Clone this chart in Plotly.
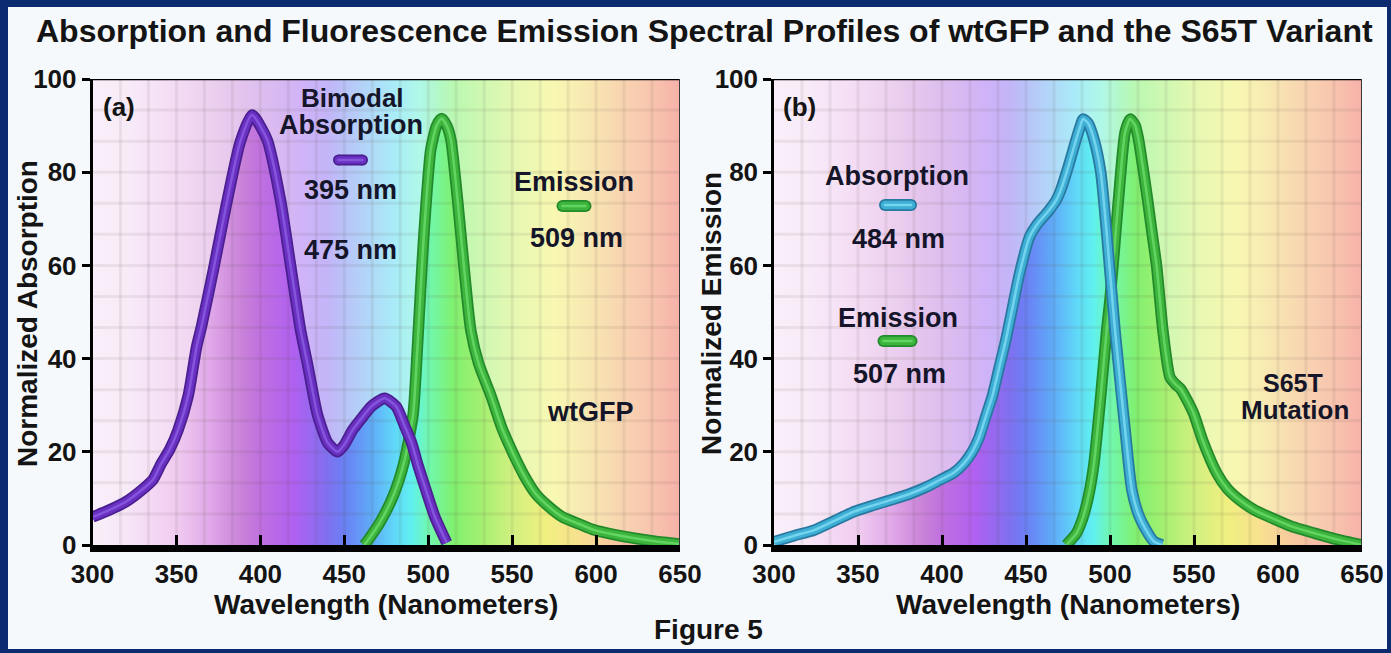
import plotly.graph_objects as go

W, H = 1391, 653

# ---------------- data ----------------
wt_abs_nm = [300, 310, 320, 330, 336, 341, 346, 351, 357, 362, 365, 372, 380, 388, 395, 404, 412,
             418, 424, 428, 434, 440, 446, 450, 455, 461, 466, 474, 481, 486, 490, 494, 498, 504, 511]
wt_abs_v = [6, 7.5, 9.3, 12, 14, 17.5, 20.5, 24.7, 32, 42.5, 47, 59, 73.5, 86.5, 92.3, 87, 74,
            60, 46, 39, 28, 22, 20, 21.5, 24.7, 27.5, 29.7, 31.5, 29.7, 25.5, 22, 17, 12.5, 6, 0.5]

wt_em_nm = [462, 466, 471, 479, 485.5, 491, 493.5, 495.5, 497.5, 501.5, 505, 508, 511, 513.5, 517.5,
            521.3, 525.4, 530, 537.4, 544, 550.5, 557, 564, 571, 580, 590, 599, 610, 622, 635, 650]
wt_em_v = [0, 2, 4.7, 10.4, 17.6, 28, 42, 55, 67, 84.8, 90, 91.5, 90, 87, 74,
           59.7, 46, 39, 32, 25, 19.7, 15, 11, 8.5, 6, 4.5, 3.2, 2.3, 1.5, 0.8, 0.2]

s65_abs_nm = [300, 312, 324, 336, 348, 359, 370, 381, 391, 399, 407, 413, 418, 422, 426, 430, 434, 438,
              442, 446, 452, 457, 463, 468, 471, 475, 479, 482, 484, 487, 490.5, 494.5, 498, 503, 509,
              513, 517, 521, 526, 531]
s65_abs_v = [0.7, 2, 3.2, 5.2, 7.2, 8.5, 9.7, 11, 12.5, 14, 15.5, 17.5, 20, 23, 27.5, 32, 38, 44,
             51, 58, 66, 69, 71.5, 74, 76.5, 81, 86, 89.5, 91.4, 90.5, 87, 80, 67, 46, 24.7,
             11.8, 6.5, 3.5, 0.8, 0]

s65_em_nm = [474, 480, 484, 487.5, 490.5, 494.5, 498, 500, 502.5, 505, 509, 512, 515, 517, 520, 522.4,
             525, 527.7, 531.5, 535.7, 539, 542, 546, 550, 555, 563.6, 570, 577, 586, 595, 608, 622,
             635, 650]
s65_em_v = [0, 2.5, 6, 11, 17.6, 32, 46, 52.7, 63, 74, 88.6, 91.4, 90, 87, 80, 74,
            67, 60, 46, 36, 34.5, 33.5, 31, 28, 22.6, 15.4, 12, 9.7, 7.5, 6, 4, 2.5,
            1.2, 0]

x_ticks = [300, 350, 400, 450, 500, 550, 600, 650]
y_ticks = [0, 20, 40, 60, 80, 100]

# spectrum colour stops (wavelength -> colour)
pale_nm = [300, 320, 350, 370, 390, 410, 425, 440, 450, 465, 480, 495, 505, 515, 535, 555, 575, 595, 615, 635, 650]
pale_col = ["#f9eef9", "#f8ebf8", "#f4dcf4", "#edd0ef", "#e3c3ed", "#d9b9f1", "#d0b3f8", "#c3b5f8",
            "#b9c3f8", "#b1d8f8", "#a9ecf8", "#b0f8e8", "#b2f8ca", "#baf8b2", "#d2f8b2", "#e9f8b2",
            "#f8f8b2", "#f8e8b2", "#f8d5b1", "#f8c3ae", "#f6b1a9"]
vivid_nm = [300, 320, 335, 350, 370, 390, 400, 420, 440, 450, 465, 480, 490, 500, 515, 530, 550, 570, 590, 610, 630, 650]
vivid_col = ["#f8f0f8", "#f6e6f6", "#f4d8f4", "#f0ccf0", "#e0a8e8", "#c880d8", "#c070e0", "#b060f0",
             "#8070f0", "#6a80f4", "#60a8f8", "#60d8f8", "#60f0f0", "#70f8b0", "#80f070", "#a0f070",
             "#d0f080", "#f0f080", "#f8e090", "#f8c8a0", "#f8b8a8", "#f8a8a0"]

# ---------------- styling / geometry ----------------
FONT = "Liberation Sans, Arial, Helvetica, sans-serif"
NAVY = "#0b2a6f"
INK = "#141414"
LABEL = "#15152a"
TOP, BOTTOM = 79, 545
PANELS = [dict(left=92.5, right=680, xa="x", ya="y"),
          dict(left=774, right=1362, xa="x2", ya="y2")]

PURPLE = ("#4a1f8f", "#6a30c2", "#8455dc")
GREEN = ("#238a2c", "#3db53d", "#62d462")
CYAN = ("#2878a0", "#3eaed4", "#74d4ee")


def cscale(nms, cols):
    return [[(n - 300) / 350.0, c] for n, c in zip(nms, cols)]


def px2data(p, px, py):
    nm = 300 + (px - p["left"]) * 350.0 / (p["right"] - p["left"])
    v = (BOTTOM - py) * 100.0 / (BOTTOM - TOP)
    return nm, v


fig = go.Figure()


def add_fill(p, xs, ys, grad):
    fig.add_trace(go.Scatter(x=xs, y=ys, mode="lines", fill="tozeroy",
                             line=dict(width=0, shape="spline", smoothing=0.6),
                             fillgradient=dict(type="horizontal", colorscale=grad, start=300, stop=650),
                             xaxis=p["xa"], yaxis=p["ya"], hoverinfo="skip", showlegend=False))


def add_curve(p, xs, ys, cols):
    for w, c in zip((11.5, 8, 2.5), cols):
        fig.add_trace(go.Scatter(x=xs, y=ys, mode="lines",
                                 line=dict(width=w, color=c, shape="spline", smoothing=0.6),
                                 xaxis=p["xa"], yaxis=p["ya"], hoverinfo="skip", showlegend=False))


def add_capsule(p, cx, cy, length, thick, cols):
    half = (length - thick) / 2.0
    x0, y0 = px2data(p, cx - half, cy)
    x1, _ = px2data(p, cx + half, cy)
    for t, c in zip((thick, thick - 3.5, 2.5), cols):
        fig.add_trace(go.Scatter(x=[x0, x1], y=[y0, y0], mode="lines+markers",
                                 line=dict(width=t, color=c),
                                 marker=dict(size=t, color=c, line=dict(width=0)),
                                 xaxis=p["xa"], yaxis=p["ya"], hoverinfo="skip", showlegend=False))


def add_grid(p):
    gx, gy = [], []
    for k in range(1, 21):
        x = 300 + k * 50.0 / 3
        gx += [x, x, None]
        gy += [0, 100, None]
    for k in range(1, 15):
        y = k * 20.0 / 3
        gx += [300, 650, None]
        gy += [y, y, None]
    fig.add_trace(go.Scatter(x=gx, y=gy, mode="lines",
                             line=dict(width=3, color="rgba(90,80,70,0.09)"),
                             xaxis=p["xa"], yaxis=p["ya"], hoverinfo="skip", showlegend=False))


pale_cs = cscale(pale_nm, pale_col)
vivid_cs = cscale(vivid_nm, vivid_col)

panel_curves = [
    [(wt_em_nm, wt_em_v, GREEN), (wt_abs_nm, wt_abs_v, PURPLE)],
    [(s65_em_nm, s65_em_v, GREEN), (s65_abs_nm, s65_abs_v, CYAN)],
]
capsules = [
    [(350.5, 160, 35, 11, PURPLE), (574, 206, 35, 12, GREEN)],
    [(898, 205, 38, 12, CYAN), (897.5, 341, 40, 12, GREEN)],
]

for p, curves, caps in zip(PANELS, panel_curves, capsules):
    # pale spectral backdrop
    fig.add_trace(go.Scatter(x=[300, 650], y=[100, 100], mode="lines", fill="tozeroy",
                             line=dict(width=0),
                             fillgradient=dict(type="horizontal", colorscale=pale_cs, start=300, stop=650),
                             xaxis=p["xa"], yaxis=p["ya"], hoverinfo="skip", showlegend=False))
    for xs, ys, cols in curves:
        add_fill(p, xs, ys, vivid_cs)
    add_grid(p)
    for xs, ys, cols in curves:
        add_curve(p, xs, ys, cols)
    for cx, cy, ln, th, cols in caps:
        add_capsule(p, cx, cy, ln, th, cols)

tickfont = dict(family=FONT, size=26, color=INK, weight="bold")
ydom = [1 - BOTTOM / H, 1 - TOP / H]
layout_axes = {}
for i, p in enumerate(PANELS):
    xk = "xaxis" if i == 0 else "xaxis2"
    yk = "yaxis" if i == 0 else "yaxis2"
    layout_axes[xk] = dict(domain=[p["left"] / W, p["right"] / W], range=[300, 650],
                           tickmode="array", tickvals=x_ticks, ticktext=[str(t) for t in x_ticks],
                           ticks="inside", ticklen=10, tickwidth=3, tickcolor="#000",
                           showline=True, linewidth=7, linecolor="#000",
                           showgrid=False, zeroline=False, tickfont=tickfont,
                           anchor=p["ya"], fixedrange=True, automargin=False)
    layout_axes[yk] = dict(domain=ydom, range=[0, 100],
                           tickmode="array", tickvals=y_ticks, ticktext=[str(t) for t in y_ticks],
                           ticks="outside", ticklen=8, tickwidth=3, tickcolor="#000",
                           showline=True, linewidth=2.5, linecolor="#000",
                           showgrid=False, zeroline=False, tickfont=tickfont,
                           anchor=p["xa"], fixedrange=True, automargin=False)

shapes = [dict(type="rect", xref="paper", yref="paper", x0=8 / W, x1=(W - 4) / W,
               y0=1 - 649 / H, y1=1 - 7 / H, fillcolor="#f6f9fb", line=dict(width=0), layer="below")]
for p in PANELS:
    shapes.append(dict(type="line", xref=p["xa"], yref=p["ya"], x0=300, x1=650, y0=100, y1=100,
                       line=dict(color="#000", width=2.5), layer="above"))
    shapes.append(dict(type="line", xref=p["xa"], yref=p["ya"], x0=650, x1=650, y0=0, y1=100,
                       line=dict(color="#3a3a3a", width=2), layer="above"))

texts = [
    ("Absorption and Fluorescence Emission Spectral Profiles of wtGFP and the S65T Variant", 704, 31, 32, 0, INK),
    ("Figure 5", 709, 629, 28, 0, INK),
    ("Wavelength (Nanometers)", 386, 604, 28, 0, INK),
    ("Wavelength (Nanometers)", 1068, 604, 28, 0, INK),
    ("Normalized Absorption", 27, 314, 28, -90, INK),
    ("Normalized Emission", 711, 314, 28, -90, INK),
    ("(a)", 119, 107, 26, 0, INK),
    ("(b)", 799, 107, 26, 0, INK),
    ("Bimodal", 352, 98, 26, 0, LABEL),
    ("Absorption", 351, 125, 27, 0, LABEL),
    ("395 nm", 350, 190, 27, 0, LABEL),
    ("475 nm", 350, 250, 27, 0, LABEL),
    ("Emission", 574, 182, 27, 0, LABEL),
    ("509 nm", 576, 238, 27, 0, LABEL),
    ("wtGFP", 590, 412, 27, 0, LABEL),
    ("Absorption", 897, 176, 27, 0, LABEL),
    ("484 nm", 898, 239, 27, 0, LABEL),
    ("Emission", 897.5, 318, 27, 0, LABEL),
    ("507 nm", 899, 374, 27, 0, LABEL),
    ("S65T", 1293, 383, 25, 0, LABEL),
    ("Mutation", 1295, 410, 26, 0, LABEL),
]
annotations = [dict(text=t, x=x / W, y=1 - y / H, xref="paper", yref="paper",
                    xanchor="center", yanchor="middle", showarrow=False, textangle=a,
                    font=dict(family=FONT, size=s, color=c, weight="bold"))
               for t, x, y, s, a, c in texts]

fig.update_layout(template="none", width=W, height=H, autosize=False,
                  margin=dict(l=0, r=0, t=0, b=0, pad=0, autoexpand=False),
                  paper_bgcolor=NAVY, plot_bgcolor="rgba(0,0,0,0)",
                  showlegend=False, hovermode=False,
                  shapes=shapes, annotations=annotations, **layout_axes)

fig.write_html("out.html", config={"displayModeBar": False})
